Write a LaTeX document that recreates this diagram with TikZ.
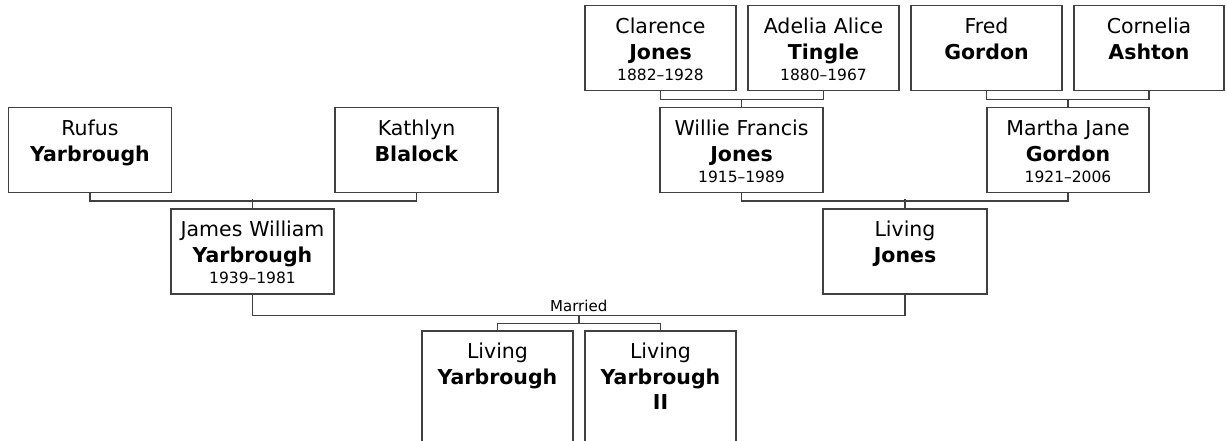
\documentclass[tikz,border=0pt]{standalone}
\usepackage{fontspec}
\setmainfont{DejaVu Sans}
\usetikzlibrary{calc}
\newcommand{\lifespan}[1]{\\[-4pt]{\fontsize{15.5}{19}\selectfont #1}}

\begin{document}
\begin{tikzpicture}[x=1pt,y=-1pt,
  person/.style={draw=black!75,line width=1.5pt,anchor=north,align=center,
    inner sep=0pt,text width=#1,text height=28pt,text depth=57pt,
    font=\fontsize{20.5}{25.5}\selectfont},
  person/.default=163pt,
  kidbox/.style={person=151pt,text depth=140pt},
  famline/.style={draw=black!75,line width=1.5pt}]
  % whole page, the children's boxes run off its lower edge
  \useasboundingbox (0,0) rectangle (1227,441);
  % grandparents on the Jones side
  \node[person=151pt] (clarence) at (660.5,5) {Clarence\\\textbf{Jones}\lifespan{1882--1928}};
  \node[person=151pt] (adelia)   at (823.5,5) {Adelia Alice\\\textbf{Tingle}\lifespan{1880--1967}};
  \node[person=151pt] (fred)     at (986.5,5) {Fred\\\textbf{Gordon}};
  \node[person=150pt] (cornelia) at (1149,5)  {Cornelia\\\textbf{Ashton}};
  % parents
  \node[person] (rufus)   at (90,107)    {Rufus\\\textbf{Yarbrough}};
  \node[person] (kathlyn) at (416.5,107)  {Kathlyn\\\textbf{Blalock}};
  \node[person] (willie)  at (741.5,107)  {Willie Francis\\\textbf{Jones}\lifespan{1915--1989}};
  \node[person=162pt] (martha) at (1068,107) {Martha Jane\\\textbf{Gordon}\lifespan{1921--2006}};
  % the couple
  \node[person] (james) at (252.5,208) {James William\\\textbf{Yarbrough}\lifespan{1939--1981}};
  \node[person=164pt] (jones) at (905,208) {Living\\\textbf{Jones}};
  % their children
  \node[kidbox] (kid1) at (497.5,330) {Living\\\textbf{Yarbrough}};
  \node[kidbox] (kid2) at (660.5,330) {Living\\\textbf{Yarbrough}\\\textbf{II}};
  % brackets from each pair down to their child
  \draw[famline] (clarence.south) -- ++(0,8) -| (adelia.south);
  \draw[famline] (willie.north) -- ++(0,-8);
  \draw[famline] (fred.south) -- ++(0,8) -| (cornelia.south);
  \draw[famline] (martha.north) -- ++(0,-8);
  \draw[famline] (rufus.south) -- ++(0,7.5) -| (kathlyn.south);
  \draw[famline] (james.north) -- ++(0,-8.5);
  \draw[famline] (willie.south) -- ++(0,7.5) -| (martha.south);
  \draw[famline] (jones.north) -- ++(0,-8.5);
  % marriage line and the children below it
  \coordinate (wed) at ($(james.south)!0.5!(jones.south)+(0,21)$);
  \draw[famline] (james.south) |- (wed) -| (jones.south);
  \node[font=\fontsize{15}{18}\selectfont,anchor=base] (married) at ($(wed)+(0,-4)$) {Married};
  \draw[famline] (wed) -- ++(0,8) coordinate (kidbar);
  \draw[famline] (kid1.north) |- (kidbar) -| (kid2.north);
\end{tikzpicture}
\end{document}
